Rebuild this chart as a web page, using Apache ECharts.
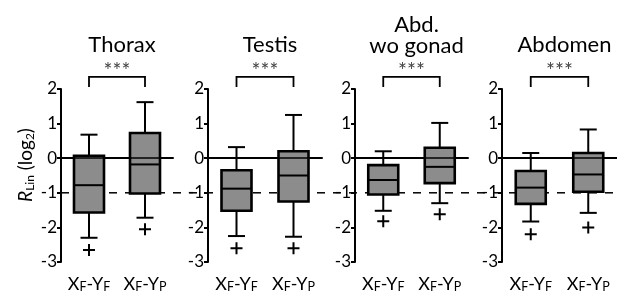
<!DOCTYPE html>
<html>
<head>
<meta charset="utf-8">
<script src="https://cdn.jsdelivr.net/npm/echarts@6/dist/echarts.min.js"></script>
<style>
  html, body { margin: 0; padding: 0; background: #fff; }
  #chart { width: 617px; height: 298px; }
</style>
</head>
<body>
<div id="chart"></div>
<script>
// categories and panel titles
const categories = ['XF-YF', 'XF-YP']
const panelTitles = ['Thorax', 'Testis', 'Abd.\nwo gonad', 'Abdomen']
const yTicks = [-3, -2, -1, 0, 1, 2]

// box values: [lower whisker, Q1, median, Q3, upper whisker]
const thoraxBox = [[-2.3, -1.57, -0.78, 0.07, 0.68], [-1.72, -1.02, -0.18, 0.73, 1.62]]
const testisBox = [[-2.25, -1.52, -0.88, -0.35, 0.32], [-2.27, -1.25, -0.5, 0.2, 1.25]]
const abdWoGonadBox = [[-1.52, -1.05, -0.63, -0.2, 0.2], [-1.3, -0.72, -0.25, 0.3, 1.02]]
const abdomenBox = [[-1.83, -1.32, -0.85, -0.37, 0.15], [-1.58, -0.97, -0.47, 0.15, 0.83]]

// outliers ("+")
const thoraxOut = [-2.65, -2.05]
const testisOut = [-2.6, -2.6]
const abdWoGonadOut = [-1.82, -1.62]
const abdomenOut = [-2.2, -2.0]

const boxes = [thoraxBox, testisBox, abdWoGonadBox, abdomenBox]
const outliers = [thoraxOut, testisOut, abdWoGonadOut, abdomenOut]
const sigText = ['***', '***', '***', '***']

// layout
const grids = [
  { left: 61, width: 112 },
  { left: 208, width: 114 },
  { left: 355, width: 113 },
  { left: 502, width: 115 }
]
const gridTop = 89
const gridHeight = 173
const font = 'Lato'

let myChart = echarts.init(document.getElementById('chart'))

function renderBox (params, api) {
  let x = api.value(0)
  let lo = api.coord([x, api.value(1)])
  let q1 = api.coord([x, api.value(2)])
  let med = api.coord([x, api.value(3)])
  let q3 = api.coord([x, api.value(4)])
  let hi = api.coord([x, api.value(5)])
  let cx = med[0]
  let bw = 15
  let cw = 8.5
  let line = { stroke: '#000', lineWidth: 2 }
  return {
    type: 'group',
    children: [
      { type: 'line', shape: { x1: cx, y1: hi[1], x2: cx, y2: q3[1] }, style: line },
      { type: 'line', shape: { x1: cx, y1: q1[1], x2: cx, y2: lo[1] }, style: line },
      { type: 'line', shape: { x1: cx - cw, y1: hi[1], x2: cx + cw, y2: hi[1] }, style: line },
      { type: 'line', shape: { x1: cx - cw, y1: lo[1], x2: cx + cw, y2: lo[1] }, style: line },
      { type: 'rect', shape: { x: cx - bw, y: q3[1], width: bw * 2, height: q1[1] - q3[1] },
        style: { fill: '#8c8c8c', stroke: '#000', lineWidth: 2.6 } },
      { type: 'line', shape: { x1: cx - bw, y1: med[1], x2: cx + bw, y2: med[1] }, style: line }
    ]
  }
}

function renderBracket (params, api) {
  let a0 = api.coord([0, 2.06])
  let a1 = api.coord([0, 2.35])
  let b0 = api.coord([1, 2.06])
  let b1 = api.coord([1, 2.35])
  return {
    type: 'group',
    children: [
      { type: 'polyline', shape: { points: [a0, a1, b1, b0] },
        style: { stroke: '#000', lineWidth: 1.8, fill: 'none' } },
      { type: 'text', x: (a1[0] + b1[0]) / 2, y: a1[1] - 6,
        style: { text: sigText[params.seriesIndex % 4], fill: '#444', font: '21px ' + font,
          align: 'center', verticalAlign: 'middle' } }
    ]
  }
}

let gridOpt = []
let xAxes = []
let yAxes = []
let titles = []
let series = []

grids.forEach(function (g, i) {
  gridOpt.push({ left: g.left, width: g.width, top: gridTop, height: gridHeight })
  titles.push({
    text: panelTitles[i],
    left: g.left + g.width / 2,
    textAlign: 'center',
    top: i === 2 ? 9 : 29,
    textStyle: { fontFamily: font, fontSize: 22, fontWeight: 'normal', color: '#000', lineHeight: 21 }
  })
  xAxes.push({
    type: 'category',
    gridIndex: i,
    data: categories,
    axisLine: { lineStyle: { color: '#000', width: 2 } },
    axisTick: { length: 4, lineStyle: { color: '#000', width: 2 } },
    axisLabel: {
      interval: 0,
      margin: 12,
      formatter: function (v) {
        return '{b|X}{s|F}{b|-Y}{s|' + v.charAt(4) + '}'
      },
      rich: {
        b: { fontFamily: font, fontSize: 18, lineHeight: 20, color: '#000' },
        s: { fontFamily: font, fontSize: 12.5, lineHeight: 14, verticalAlign: 'bottom', padding: [0, 0, 1, 0], color: '#000' }
      }
    }
  })
  yAxes.push({
    type: 'value',
    gridIndex: i,
    min: yTicks[0],
    max: yTicks[yTicks.length - 1],
    interval: 1,
    splitLine: { show: false },
    axisLine: { show: true, lineStyle: { color: '#000', width: 2 } },
    axisTick: { show: true, length: 4, lineStyle: { color: '#000', width: 2 } },
    axisLabel: { margin: 4, fontFamily: font, fontSize: 17, color: '#000' }
  })
  series.push({
    type: 'custom',
    xAxisIndex: i,
    yAxisIndex: i,
    z: 3,
    renderItem: renderBox,
    data: boxes[i].map(function (b, k) { return [k].concat(b) }),
    markLine: {
      silent: true,
      symbol: 'none',
      label: { show: false },
      lineStyle: { color: '#000', width: 1.5, type: 'solid' },
      data: [{ yAxis: 0 }]
    }
  })
  series.push({
    type: 'scatter',
    xAxisIndex: i,
    yAxisIndex: i,
    z: 4,
    symbol: 'path://M5,0L5,10M0,5L10,5',
    symbolSize: 12,
    itemStyle: { color: 'none', borderColor: '#000', borderWidth: 2, opacity: 1 },
    data: outliers[i].map(function (v, k) { return [k, v] })
  })
})

// bracket series (one per panel)
grids.forEach(function (g, i) {
  series.push({
    type: 'custom',
    xAxisIndex: i,
    yAxisIndex: i,
    clip: false,
    renderItem: renderBracket,
    data: [[0, 2.35]]
  })
})

// full-width hidden grid for dashed reference line at -1
gridOpt.push({ left: 61, right: 0, top: gridTop, height: gridHeight })
xAxes.push({ type: 'value', gridIndex: 4, min: 0, max: 1, show: false })
yAxes.push({ type: 'value', gridIndex: 4, min: -3, max: 2, show: false })
series.push({
  type: 'line',
  xAxisIndex: 4,
  yAxisIndex: 4,
  z: 1,
  symbol: 'none',
  silent: true,
  lineStyle: { color: '#000', width: 1.5, type: [8, 8] },
  data: [[0, -1], [1, -1]]
})

let option = {
  animation: false,
  title: titles,
  grid: gridOpt,
  xAxis: xAxes,
  yAxis: yAxes,
  series: series,
  graphic: [{
    type: 'text',
    x: 26,
    y: 165,
    rotation: Math.PI / 2,
    style: {
      text: '{i|R}{sub|Lin} (log{sub|2})',
      align: 'center',
      verticalAlign: 'middle',
      font: '19px ' + font,
      fill: '#000',
      rich: {
        i: { fontFamily: font, fontSize: 19, fontStyle: 'italic', fill: '#000' },
        sub: { fontFamily: font, fontSize: 12, fill: '#000', verticalAlign: 'bottom', padding: [8, 0, 0, 0] }
      }
    }
  }]
}
myChart.setOption(option)
</script>
</body>
</html>
